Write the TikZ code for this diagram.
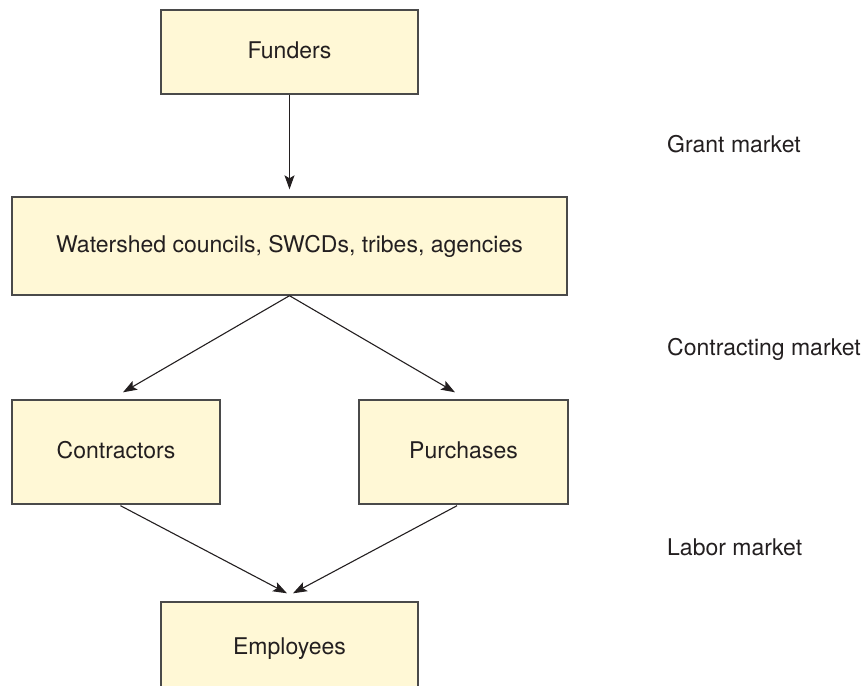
\documentclass[tikz,border=0pt]{standalone}
\usepackage{fontspec}
\setmainfont{TeX Gyre Heros}
\usetikzlibrary{arrows.meta,calc}
\definecolor{boxfill}{HTML}{FFF8D6}
\definecolor{boxline}{HTML}{4A4A4A}
\definecolor{ink}{HTML}{231F20}
\begin{document}
\begin{tikzpicture}[x=1pt,y=-1pt,
  font=\fontsize{23}{27}\selectfont, text=ink,
  box/.style={draw=boxline, line width=1.4pt, fill=boxfill, inner sep=0pt,
    text height=16.5pt, text depth=4pt},
  flow/.style={draw=ink, line width=1.1pt,
    -{Stealth[length=14pt,width=10pt,inset=3pt]}},
  market/.style={anchor=base west, inner sep=0pt}]
  \useasboundingbox (0,0) rectangle (863,686);
  \clip (0,0) rectangle (863,686);

  % organisations
  \node[box, minimum width=257pt, minimum height=84pt]  (funders)     at (289.5,52)  {Funders};
  \node[box, minimum width=555pt, minimum height=98pt]  (watershed)   at (289.5,246) {Watershed councils, SWCDs, tribes, agencies};
  \node[box, minimum width=208pt, minimum height=104pt] (contractors) at (116,452)   {Contractors};
  \node[box, minimum width=209pt, minimum height=104pt] (purchases)   at (463.5,452) {Purchases};
  \node[box, minimum width=257pt, minimum height=92pt]  (employees)   at (289.5,648) {Employees};

  % money flows
  \draw[flow] (funders.south) -- ($(watershed.north)+(0,-7)$);
  \draw[flow] (watershed.south) -- ($(contractors.north)+(7,-7)$);
  \draw[flow] (watershed.south) -- ($(purchases.north)+(-8.5,-7)$);
  \draw[flow] ($(contractors.south)+(4.5,1)$) -- ($(employees.north)+(-2.5,-8)$);
  \draw[flow] ($(purchases.south)+(-6.5,1)$) -- ($(employees.north)+(3.5,-8)$);

  % market levels
  \node[market] (grant)    at (667,152) {Grant market};
  \node[market] (contract) at (667,355) {Contracting market};
  \node[market] (labor)    at (667,555) {Labor market};
\end{tikzpicture}
\end{document}
